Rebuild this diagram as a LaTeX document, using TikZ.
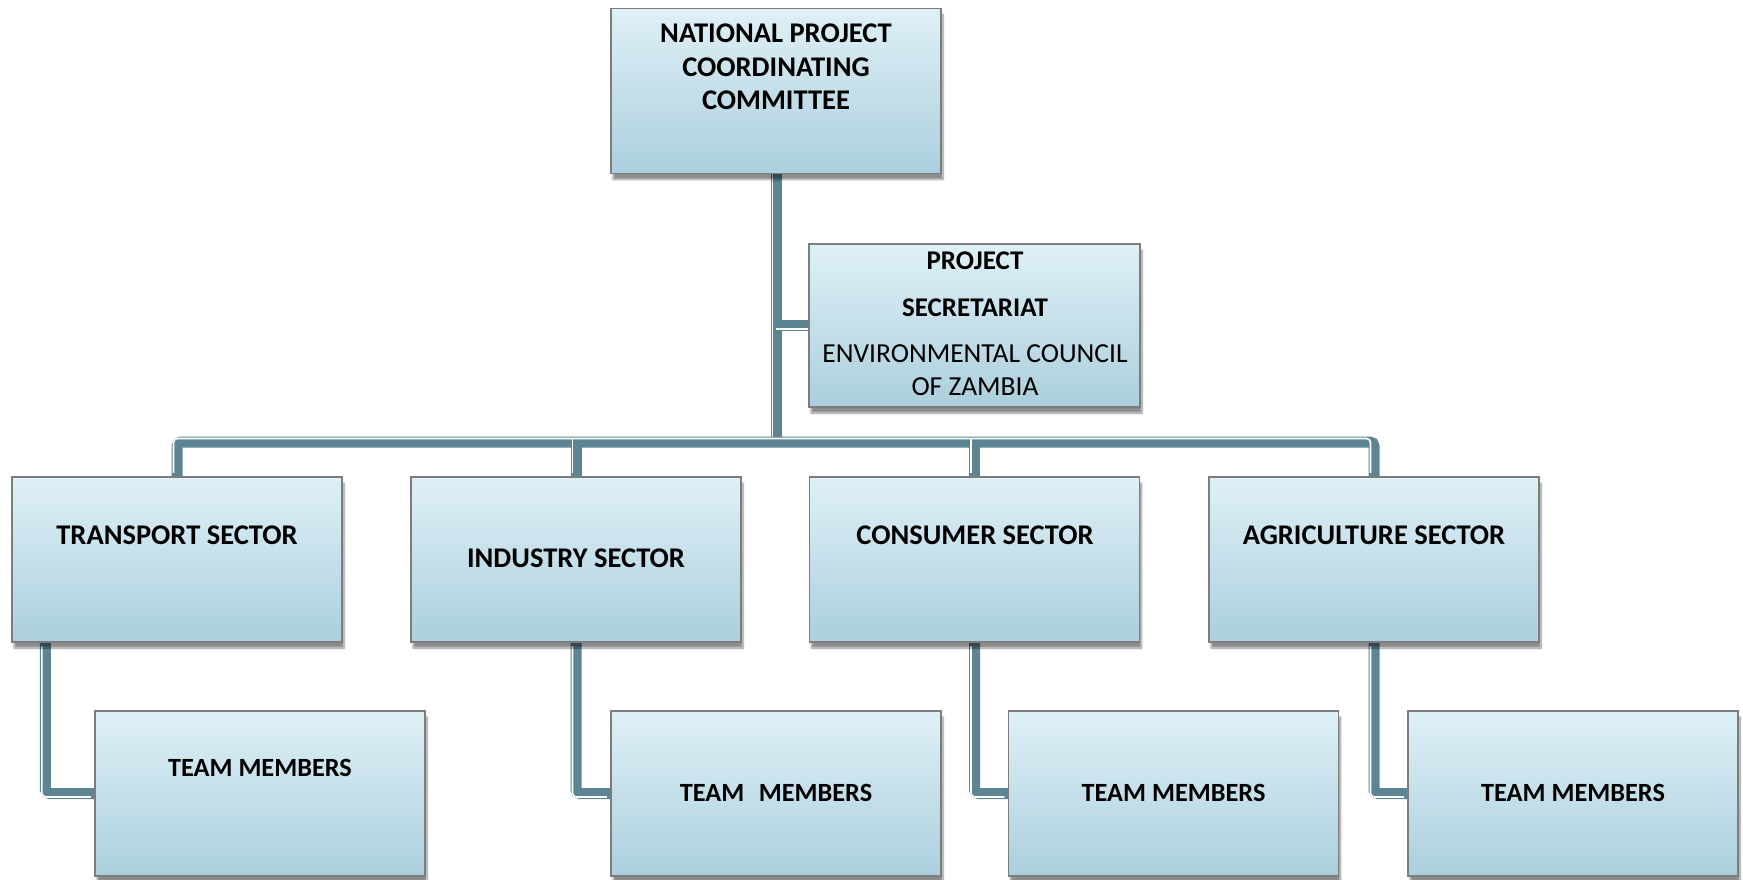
\documentclass[tikz,border=0pt]{standalone}
\usepackage{fontspec}
\setmainfont{Carlito}
\usetikzlibrary{shadows.blur,backgrounds}
\definecolor{boxtop}{RGB}{223,240,247}
\definecolor{boxbot}{RGB}{171,207,221}
\definecolor{boxline}{RGB}{125,125,125}
\definecolor{conncol}{RGB}{92,132,146}
\tikzset{
  orgbox/.style={draw=boxline, line width=1.2pt, top color=boxtop, bottom color=boxbot,
    minimum width=330pt, minimum height=165pt, inner sep=0pt,
    blur shadow={shadow xshift=2pt, shadow yshift=-6pt, shadow blur steps=8, shadow opacity=45}},
  lbl/.style={font=\fontsize{28.5}{33.5}\selectfont\bfseries, align=center, inner sep=0pt},
  tlbl/.style={font=\fontsize{26.3}{33.5}\selectfont\bfseries, align=center, inner sep=0pt},
  slbl/.style={font=\fontsize{27}{30}\selectfont\bfseries, align=center, inner sep=0pt},
  rlbl/.style={font=\fontsize{27.5}{33}\selectfont, align=center, inner sep=0pt},
  conn/.style={draw=conncol, line width=11pt, rounded corners=4pt,
    postaction={draw=white, line width=1.6pt, transform canvas={shift={#1}}}}
}
\begin{document}
\begin{tikzpicture}[x=1pt,y=-1pt]
\useasboundingbox (0,0) rectangle (1743,880);
% boxes
\node[orgbox] (top) at (776,91) {};
\node[orgbox, minimum width=331pt, minimum height=163pt] (sec) at (974.5,325.5) {};
\node[orgbox] (trans) at (177,559.5) {};
\node[orgbox] (ind) at (576,559.5) {};
\node[orgbox] (cons) at (974.5,559.5) {};
\node[orgbox] (agri) at (1374,559.5) {};
\node[orgbox] (team1) at (260,793.5) {};
\node[orgbox] (team2) at (776,793.5) {};
\node[orgbox] (team3) at (1173.5,793.5) {};
\node[orgbox] (team4) at (1573,793.5) {};
% texts
\node[lbl] (toptxt) at (776,67) {NATIONAL PROJECT\\COORDINATING\\COMMITTEE};
\node[slbl] (sec1) at (975,261) {PROJECT};
\node[slbl] (sec2) at (975,308) {SECRETARIAT};
\node[rlbl] (sec3) at (975,370.5) {ENVIRONMENTAL COUNCIL\\OF ZAMBIA};
\node[lbl] (transtxt) at (177,535) {TRANSPORT SECTOR};
\node[lbl] (indtxt) at (576,558) {INDUSTRY SECTOR};
\node[lbl] (constxt) at (975,535) {CONSUMER SECTOR};
\node[lbl] (agritxt) at (1374,535) {AGRICULTURE SECTOR};
\node[tlbl] (t1txt) at (260,768) {TEAM MEMBERS};
\node[tlbl] (t2txt) at (776,793) {TEAM\hspace{0.55em}MEMBERS};
\node[tlbl] (t3txt) at (1173.5,793) {TEAM MEMBERS};
\node[tlbl] (t4txt) at (1573,793) {TEAM MEMBERS};
\coordinate (busy) at (0,442);
\coordinate (t1start) at ([xshift=34pt]trans.south west);
% connectors
\begin{scope}[on background layer]
\draw[conn={(-3.5pt,3.5pt)}] (top.south) -- (top.south |- busy);
\draw[conn={(0pt,-3.5pt)}] (top.south |- sec.west) -- (sec.west);
\draw[conn={(-3.5pt,3.5pt)}] (trans.north) -- (trans.north |- busy) -- (agri.north |- busy) -- (agri.north);
\draw[conn={(-3.5pt,3.5pt)}] (ind.north |- busy) -- (ind.north);
\draw[conn={(-3.5pt,3.5pt)}] (cons.north |- busy) -- (cons.north);
\draw[conn={(-3.5pt,-3.5pt)}] (t1start) |- (team1.west);
\draw[conn={(-3.5pt,-3.5pt)}] (ind.south) |- (team2.west);
\draw[conn={(-3.5pt,-3.5pt)}] (cons.south) |- (team3.west);
\draw[conn={(-3.5pt,-3.5pt)}] (agri.south) |- (team4.west);
\end{scope}
\end{tikzpicture}
\end{document}
